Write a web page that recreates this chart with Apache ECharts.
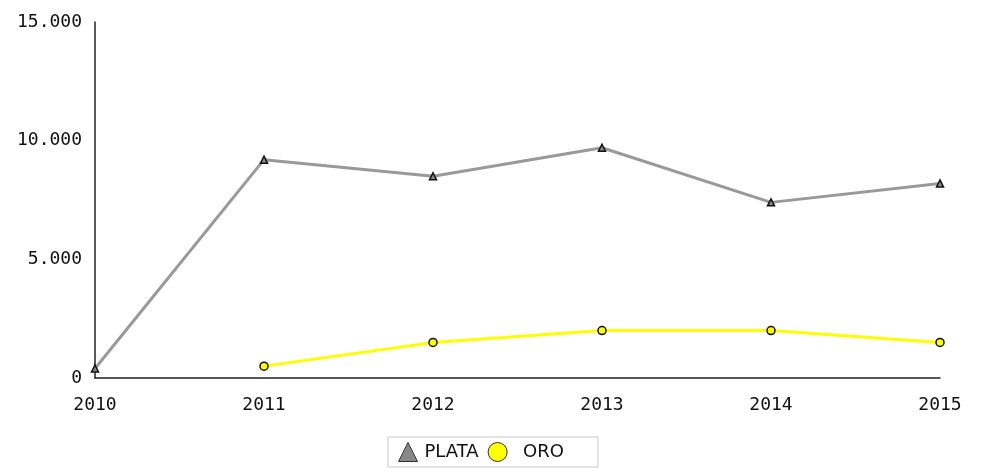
<!DOCTYPE html>
<html>
<head>
<meta charset="utf-8">
<script src="https://cdn.jsdelivr.net/npm/echarts@6/dist/echarts.min.js"></script>
<style>
  html, body { margin: 0; padding: 0; background: #fff; }
  #chart { width: 985px; height: 473px; }
</style>
</head>
<body>
<div id="chart"></div>
<script>
// Years on the category axis
const years = ['2010', '2011', '2012', '2013', '2014', '2015'];
// Production series
const plata = [400, 9200, 8500, 9700, 7400, 8200];
const oro = [null, 500, 1500, 2000, 2000, 1500];
// Value axis ticks
const yTicks = [0, 5000, 10000, 15000];

const fmt = v => v === 0 ? '0' : String(v).replace(/\B(?=(\d{3})+(?!\d))/g, '.');

const chart = echarts.init(document.getElementById('chart'), null, { renderer: 'canvas' });
chart.setOption({
  animation: false,
  backgroundColor: '#fff',
  grid: { left: 95, right: 45, top: 22, bottom: 95, containLabel: false },
  xAxis: {
    type: 'category',
    data: years,
    boundaryGap: false,
    axisLine: { lineStyle: { color: '#222', width: 1.5 } },
    axisTick: { show: false },
    axisLabel: { color: '#111', fontFamily: 'DejaVu Sans Mono', fontSize: 18, margin: 18 }
  },
  yAxis: {
    type: 'value',
    min: yTicks[0],
    max: yTicks[yTicks.length - 1],
    interval: yTicks[1] - yTicks[0],
    axisLine: { show: true, lineStyle: { color: '#222', width: 1.5 } },
    axisTick: { show: false },
    splitLine: { show: false },
    axisLabel: { color: '#111', fontFamily: 'DejaVu Sans Mono', fontSize: 18, margin: 13, formatter: fmt }
  },
  legend: {
    bottom: 6,
    left: 388,
    data: [
      { name: 'PLATA', icon: 'triangle', itemStyle: { color: '#888', borderColor: '#333', borderWidth: 1 } },
      { name: 'ORO', icon: 'circle', itemStyle: { color: '#ffff00', borderColor: '#333', borderWidth: 1 },
        textStyle: { padding: [0, 0, 0, 11] } }
    ],
    itemWidth: 19,
    itemHeight: 19,
    itemGap: 9,
    borderColor: '#c8c8c8',
    borderWidth: 1,
    padding: [5, 34, 5, 10],
    textStyle: { color: '#111', fontFamily: 'DejaVu Sans', fontSize: 18, padding: [0, 0, 0, 2] }
  },
  series: [
    {
      name: 'PLATA',
      type: 'line',
      data: plata,
      symbol: 'triangle',
      symbolSize: 7,
      lineStyle: { color: '#999', width: 3 },
      itemStyle: { color: '#888', borderColor: '#111', borderWidth: 1.5 },
      z: 2
    },
    {
      name: 'ORO',
      type: 'line',
      data: oro,
      symbol: 'circle',
      symbolSize: 8,
      lineStyle: { color: '#ffff00', width: 3 },
      itemStyle: { color: '#ffff00', borderColor: '#111', borderWidth: 1.5 },
      z: 3
    }
  ]
});
</script>
</body>
</html>
